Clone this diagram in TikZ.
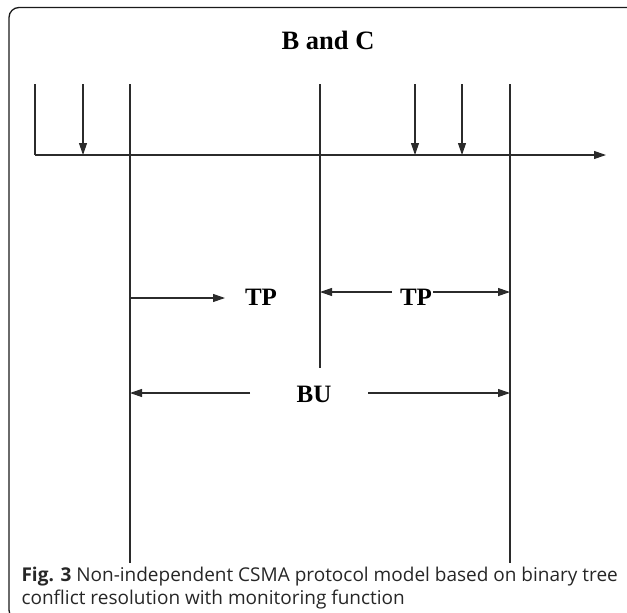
\documentclass[tikz,border=0pt]{standalone}
\usepackage{fontspec}
\setmainfont{Liberation Serif}
\newfontfamily\capfont{Open Sans}
\usetikzlibrary{positioning,arrows.meta}
\definecolor{mLine}{HTML}{2B2B2B}
\definecolor{mFrame}{HTML}{1A1A1A}
\definecolor{mCap}{HTML}{262626}

\begin{document}
\begin{tikzpicture}[x=1pt, y=-1pt, line width=1.1pt,
  tipline/.style={draw=mLine, -{Triangle[length=12pt,width=8pt]}},
  plainline/.style={draw=mLine},
  lbl/.style={font=\fontsize{25}{28}\selectfont\bfseries, inner sep=0pt},
  captxt/.style={anchor=west, inner sep=0pt, text=mCap, font=\capfont\fontsize{19}{23}\selectfont}]
\useasboundingbox (0,0) rectangle (627,613);
\clip (0,0) rectangle (627,613);
\draw[mFrame, line width=1.3pt, rounded corners=10pt] (9,7.5) rectangle (640,620);
\node[font=\fontsize{26.5}{30}\selectfont\bfseries, inner sep=0pt] (title) at (328,40) {B and C};
% time axis and slot borders
\coordinate (orig) at (35,155);
\coordinate (axend) at (606,155);
\coordinate (orig top) at (35,84);
\draw[plainline] (orig top) -- (orig);
\draw[tipline] (orig) -- (axend);
\foreach \x in {83,415,462}
  \draw[tipline] (\x,84) coordinate (pk\x) -- (pk\x |- orig);
\coordinate (lA) at (130,84);
\coordinate (lB) at (320,84);
\coordinate (lC) at (510,84);
\coordinate (lAend) at (130,563);
\coordinate (lBend) at (320,368);
\coordinate (lCend) at (510,563);
\draw[plainline] (lA) -- (lAend);
\draw[plainline] (lB) -- (lBend);
\draw[plainline] (lC) -- (lCend);
% TP and BU spans
\node[lbl] (tpA) at (261,297) {TP};
\coordinate (tpAend) at (225,298);
\draw[tipline] (lA |- tpAend) -- (tpAend);
\node[lbl] (tpB) at (416,297) {TP};
\coordinate (tpBl) at (392,292);
\coordinate (tpBr) at (433,292);
\draw[tipline] (tpBl) -- (lB |- tpBl);
\draw[tipline] (tpBr) -- (lC |- tpBr);
\node[lbl] (bu) at (314,394) {BU};
\coordinate (buL) at (250,393);
\coordinate (buR) at (368,393);
\draw[tipline] (buL) -- (lA |- buL);
\draw[tipline] (buR) -- (lC |- buR);
% caption
\node[captxt] (cap1) at (21,577) {\textbf{Fig. 3} Non-independent CSMA protocol model based on binary tree};
\node[captxt] (cap2) at (21,600) {conflict resolution with monitoring function};
\end{tikzpicture}
\end{document}
